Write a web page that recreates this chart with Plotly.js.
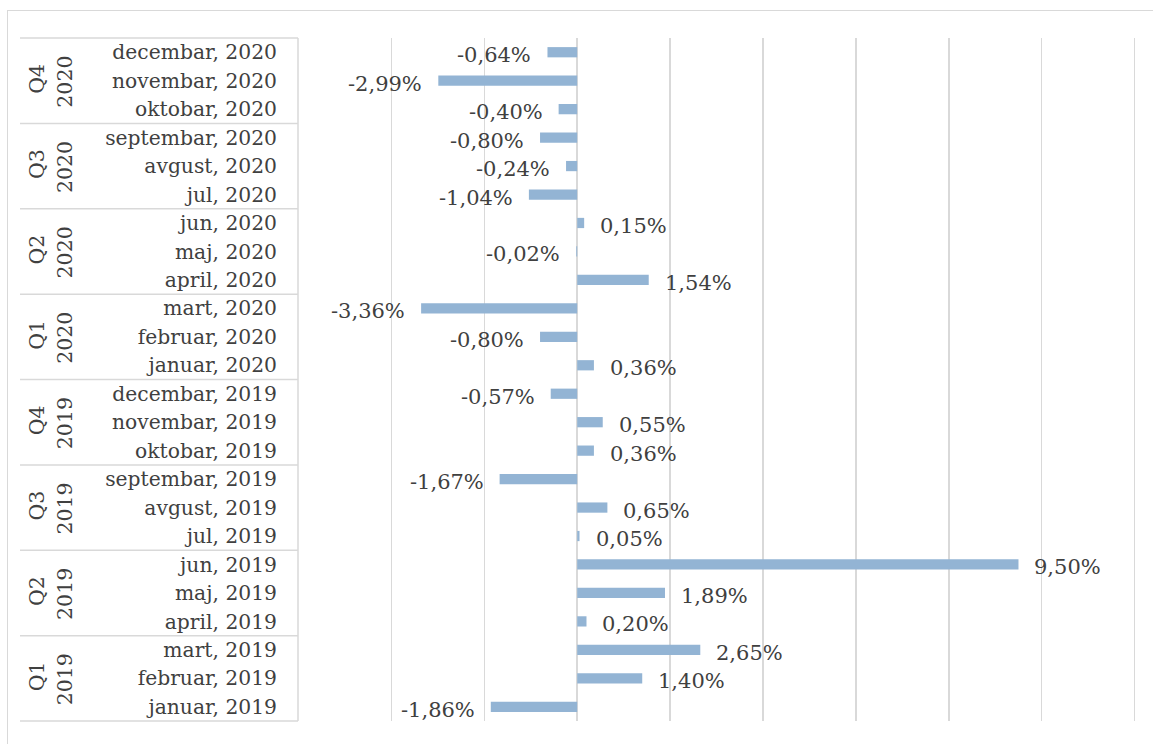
<!DOCTYPE html>
<html>
<head>
<meta charset="utf-8">
<script src="https://cdn.plot.ly/plotly-3.0.1.min.js"></script>
<style>
  html, body { margin: 0; padding: 0; background: #fff; overflow: hidden; }
  #wrap { position: relative; width: 1153px; height: 744px; }
  #chart { position: absolute; left: 0; top: 0; width: 1153px; height: 744px; }
  #frame { position: absolute; left: 7px; top: 10px; width: 1200px; height: 800px;
           border: 1.5px solid #d9d9d9; pointer-events: none; box-sizing: border-box; }
</style>
</head>
<body>
<div id="wrap">
  <div id="chart"></div>
  <div id="frame"></div>
</div>
<script>
// Months in chronological order (bottom to top on the chart)
const months = [
  'januar, 2019', 'februar, 2019', 'mart, 2019',
  'april, 2019', 'maj, 2019', 'jun, 2019',
  'jul, 2019', 'avgust, 2019', 'septembar, 2019',
  'oktobar, 2019', 'novembar, 2019', 'decembar, 2019',
  'januar, 2020', 'februar, 2020', 'mart, 2020',
  'april, 2020', 'maj, 2020', 'jun, 2020',
  'jul, 2020', 'avgust, 2020', 'septembar, 2020',
  'oktobar, 2020', 'novembar, 2020', 'decembar, 2020'
];
// Monthly change, %
const changes = [
  -1.86, 1.40, 2.65,
  0.20, 1.89, 9.50,
  0.05, 0.65, -1.67,
  0.36, 0.55, -0.57,
  0.36, -0.80, -3.36,
  1.54, -0.02, 0.15,
  -1.04, -0.24, -0.80,
  -0.40, -2.99, -0.64
];
const quarterNames = ['Q1', 'Q2', 'Q3', 'Q4', 'Q1', 'Q2', 'Q3', 'Q4'];
const quarterYears = ['2019', '2019', '2019', '2019', '2020', '2020', '2020', '2020'];

const W = 1153, H = 744;
const M = { l: 390, r: 17, t: 38, b: 23 };
const plotW = W - M.l - M.r;
const plotH = H - M.t - M.b;
const px2paperX = px => (px - M.l) / plotW;

const textColor = '#404040';
const lineColor = '#d9d9d9';
const serif = 'DejaVu Serif, Liberation Serif, serif';

const fmt = v => v.toFixed(2).replace('.', ',') + '%';

const trace = {
  type: 'bar',
  orientation: 'h',
  y: months,
  x: changes,
  width: 0.36,
  marker: { color: '#93b4d4', line: { width: 0 } },
  hoverinfo: 'skip'
};

const annotations = [];
// data labels
changes.forEach((v, i) => {
  annotations.push({
    x: v, y: months[i], xref: 'x', yref: 'y',
    text: fmt(v), showarrow: false,
    xanchor: v < 0 ? 'right' : 'left',
    xshift: v < 0 ? -14 : 14,
    yshift: -3,
    font: { family: serif, size: 21, color: textColor }
  });
});
// quarter group labels (rotated)
quarterNames.forEach((q, k) => {
  const mid = months[3 * k + 1];
  annotations.push({
    x: px2paperX(37), y: mid, xref: 'paper', yref: 'y',
    text: q, showarrow: false, textangle: -90,
    xanchor: 'center', yanchor: 'middle', yshift: 2,
    font: { family: serif, size: 20.5, color: textColor }
  });
  annotations.push({
    x: px2paperX(65), y: mid, xref: 'paper', yref: 'y',
    text: quarterYears[k], showarrow: false, textangle: -90,
    xanchor: 'center', yanchor: 'middle', yshift: -1,
    font: { family: serif, size: 20.5, color: textColor }
  });
});

const shapes = [];
const nGroups = quarterNames.length;
for (let k = 0; k <= nGroups; k++) {
  const yy = k / nGroups;
  shapes.push({
    type: 'line', xref: 'paper', yref: 'paper',
    x0: px2paperX(20), x1: px2paperX(298), y0: yy, y1: yy,
    line: { color: lineColor, width: 1.5 }
  });
}
shapes.push({
  type: 'line', xref: 'paper', yref: 'paper',
  x0: px2paperX(298), x1: px2paperX(298), y0: 0, y1: 1,
  line: { color: lineColor, width: 1.5 }
});

const layout = {
  width: W, height: H,
  margin: M,
  paper_bgcolor: '#fff',
  plot_bgcolor: '#fff',
  showlegend: false,
  xaxis: {
    range: [-4.03, 12.03],
    dtick: 2, tick0: 0,
    showticklabels: false,
    showgrid: true, gridcolor: lineColor, gridwidth: 1.5,
    zeroline: false, showline: false, ticks: '',
    fixedrange: true
  },
  yaxis: {
    type: 'category',
    categoryorder: 'array', categoryarray: months,
    range: [-0.5, months.length - 0.5],
    showgrid: false, zeroline: false, showline: false, ticks: '',
    ticklabelstandoff: 112,
    tickfont: { family: serif, size: 20.3, color: textColor },
    fixedrange: true
  },
  annotations: annotations,
  shapes: shapes
};

Plotly.newPlot('chart', [trace], layout, { displayModeBar: false, staticPlot: true });
</script>
</body>
</html>
